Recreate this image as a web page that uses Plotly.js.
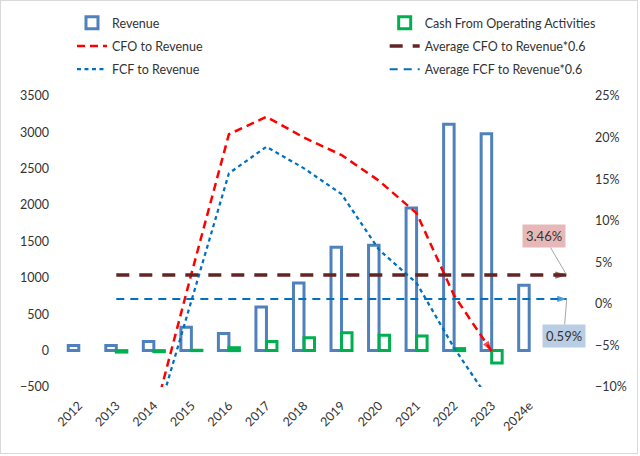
<!DOCTYPE html>
<html><head><meta charset="utf-8">
<script src="https://cdn.plot.ly/plotly-3.0.1.min.js"></script>
<style>
html,body{margin:0;padding:0;background:#fff;}
#wrap{position:relative;width:640px;height:456px;}
#chart{width:640px;height:456px;}
#frame{position:absolute;left:0;top:0;width:636px;height:452px;border:1px solid #D9D9D9;pointer-events:none;}
</style></head><body>
<div id="wrap"><div id="chart"></div><div id="frame"></div></div>
<script>
// ---- data ----
const categories = ['2012','2013','2014','2015','2016','2017','2018','2019','2020','2021','2022','2023','2024e'];
const revenue = [70, 70, 125, 320, 235, 600, 930, 1420, 1450, 1960, 3110, 2980, 900];
const cashFromOps = [null, -20, -15, 5, 40, 125, 176, 245, 213, 200, 28, -170, null];
const cfoToRevenue = [null, null, -13.6, 3.6, 20.4, 22.5, 20.0, 17.9, 14.8, 10.9, 1.0, -5.7, null];
const fcfToRevenue = [null, null, -15.0, 0.3, 15.7, 18.9, 16.3, 13.2, 6.5, 2.5, -5.3, -12.0, null];
const avgCfoToRevenue = 3.46;
const avgFcfToRevenue = 0.59;
// average lines run from the 2013 slot to one slot past 2024e
const avgStart = 1, avgEnd = categories.length;

const FONT = 'Lato, "Open Sans", sans-serif';
const TXT = '#333333';
const BLUE_BAR = '#4F81BD', GREEN_BAR = '#00B050';
const RED = '#FF0000', BLUE = '#0070C0', DARKRED = '#632523';

const last = cfoToRevenue.reduce((a, v, i) => v != null ? i : a, -1);

const traces = [
  {type:'bar', name:'Revenue', x:categories, y:revenue, xaxis:'x', yaxis:'y', legend:'legend', legendgroup:'g1',
   marker:{color:'rgba(255,255,255,0)', line:{color:BLUE_BAR, width:3}}},
  {type:'bar', name:'Cash From Operating Activities', x:categories, y:cashFromOps, xaxis:'x', yaxis:'y', legend:'legend2', legendgroup:'g2',
   marker:{color:'rgba(255,255,255,0)', line:{color:GREEN_BAR, width:3}}},
  {type:'scatter', mode:'lines', name:'CFO to Revenue', x:categories, y:cfoToRevenue, xaxis:'x', yaxis:'y2', legend:'legend', legendgroup:'g3',
   line:{color:RED, width:2.5, dash:'8px,5px'}, connectgaps:false},
  {type:'scatter', mode:'markers', showlegend:false, x:categories.slice(last-1, last+1), y:cfoToRevenue.slice(last-1, last+1),
   xaxis:'x', yaxis:'y2', marker:{symbol:'arrow', angleref:'previous', size:[0, 11], color:RED, line:{width:0}}, hoverinfo:'skip'},
  {type:'scatter', mode:'lines', name:'Average CFO to Revenue*0.6', x:[avgStart, avgEnd], y:[avgCfoToRevenue, avgCfoToRevenue],
   xaxis:'x2', yaxis:'y2', legend:'legend2', legendgroup:'g4', line:{color:DARKRED, width:3.5, dash:'13px,10px'}},
  {type:'scatter', mode:'markers', showlegend:false, x:[avgEnd-1, avgEnd], y:[avgCfoToRevenue, avgCfoToRevenue],
   xaxis:'x2', yaxis:'y2', marker:{symbol:'arrow', angleref:'previous', size:[0, 12], color:DARKRED, line:{width:0}}, hoverinfo:'skip'},
  {type:'scatter', mode:'lines', name:'FCF to Revenue', x:categories, y:fcfToRevenue, xaxis:'x', yaxis:'y2', legend:'legend', legendgroup:'g5',
   line:{color:BLUE, width:2.25, dash:'4px,3.5px'}},
  {type:'scatter', mode:'lines', name:'Average FCF to Revenue*0.6', x:[avgStart, avgEnd], y:[avgFcfToRevenue, avgFcfToRevenue],
   xaxis:'x2', yaxis:'y2', legend:'legend2', legendgroup:'g6', line:{color:BLUE, width:2, dash:'8px,6px'}},
  {type:'scatter', mode:'markers', showlegend:false, x:[avgEnd-1, avgEnd], y:[avgFcfToRevenue, avgFcfToRevenue],
   xaxis:'x2', yaxis:'y2', marker:{symbol:'arrow', angleref:'previous', size:[0, 10], color:BLUE, line:{width:0}}, hoverinfo:'skip'}
];

const ML = 60, MR = 61.5, PW = 640 - ML - MR;
const xr = [-0.5, 13.3];
const legendBase = {xref:'paper', yref:'container', xanchor:'left', yanchor:'top', orientation:'v',
  bgcolor:'rgba(0,0,0,0)', borderwidth:0, tracegroupgap:4, traceorder:'grouped',
  font:{family:FONT, size:12.5, color:TXT}};

const layout = {
  width:640, height:456,
  margin:{l:ML, r:MR, t:96, b:69},
  paper_bgcolor:'#FFFFFF', plot_bgcolor:'rgba(0,0,0,0)',
  font:{family:FONT, size:12, color:TXT},
  barmode:'group', bargap:0.44, bargroupgap:0,
  showlegend:true,
  legend:Object.assign({}, legendBase, {x:(72-ML)/PW, y:1-8/456}),
  legend2:Object.assign({}, legendBase, {x:(385-ML)/PW, y:1-8/456}),
  xaxis:{type:'category', categoryorder:'array', categoryarray:categories, range:xr,
    tickangle:-45, showgrid:false, zeroline:false, showline:false, ticks:'', ticklabelstandoff:8,
    tickfont:{family:FONT, size:12.5, color:TXT}, fixedrange:true},
  xaxis2:{overlaying:'x', anchor:'y2', range:xr, visible:false, showgrid:false, zeroline:false},
  yaxis:{range:[-500, 3500], dtick:500, tick0:0, showgrid:false, zeroline:false, showline:false, ticks:'',
    ticklabelstandoff:10, tickfont:{family:FONT, size:12.5, color:TXT}},
  yaxis2:{overlaying:'y', side:'right', anchor:'x', range:[-10, 25], dtick:5, tick0:0, ticksuffix:'%',
    showgrid:false, zeroline:false, showline:false, ticks:'', ticklabelstandoff:16,
    tickfont:{family:FONT, size:12.5, color:TXT}},
  annotations:[
    {xref:'x2', yref:'y2', x:avgEnd, y:avgCfoToRevenue, text:avgCfoToRevenue.toFixed(2)+'%',
     showarrow:true, arrowhead:0, arrowwidth:1, arrowcolor:'#A6A6A6', ax:-23, ay:-39,
     bgcolor:'#E6B9B8', borderpad:3, font:{family:FONT, size:13, color:TXT}},
    {xref:'x2', yref:'y2', x:avgEnd, y:avgFcfToRevenue, text:avgFcfToRevenue.toFixed(2)+'%',
     showarrow:true, arrowhead:0, arrowwidth:1, arrowcolor:'#A6A6A6', ax:-3, ay:37,
     bgcolor:'#B9CDE5', borderpad:3, font:{family:FONT, size:13, color:TXT}}
  ]
};

Plotly.newPlot('chart', traces, layout, {staticPlot:true, displayModeBar:false});
</script>
</body></html>
